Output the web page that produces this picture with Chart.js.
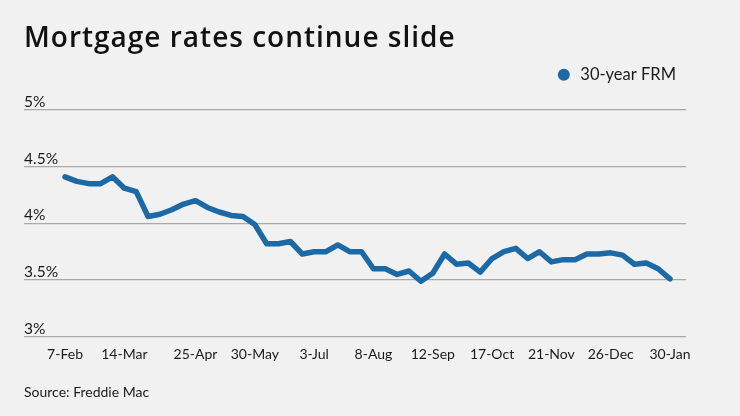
<!DOCTYPE html>
<html>
<head>
<meta charset="utf-8">
<script src="https://cdn.jsdelivr.net/npm/chart.js@4"></script>
<style>
  html, body { margin: 0; padding: 0; background: #f0f1f0; }
  #wrap { position: relative; width: 740px; height: 416px; }
  #title { position: absolute; left: 24px; top: 22px; margin: 0;
    font-family: 'Open Sans', Lato, sans-serif; font-weight: 600; font-size: 28px;
    line-height: 28px; letter-spacing: 1px; color: #111; white-space: nowrap; }
  canvas { position: absolute; left: 0; top: 0; }
</style>
</head>
<body>
<div id="wrap">
  <canvas id="c" width="740" height="416"></canvas>
  <h1 id="title">Mortgage rates continue slide</h1>
</div>
<script>
// Weekly dates (Freddie Mac PMMS), 7-Feb to 30-Jan
const weeks = ["7-Feb","14-Feb","21-Feb","28-Feb","7-Mar","14-Mar","21-Mar","28-Mar","4-Apr","11-Apr","18-Apr","25-Apr",
  "2-May","9-May","16-May","23-May","30-May","6-Jun","13-Jun","20-Jun","27-Jun","3-Jul","11-Jul","18-Jul","25-Jul",
  "1-Aug","8-Aug","15-Aug","22-Aug","29-Aug","5-Sep","12-Sep","19-Sep","26-Sep","3-Oct","10-Oct","17-Oct","24-Oct",
  "31-Oct","7-Nov","14-Nov","21-Nov","27-Nov","5-Dec","12-Dec","19-Dec","26-Dec","2-Jan","9-Jan","16-Jan","23-Jan","30-Jan"];
const frm30 = [4.41,4.37,4.35,4.35,4.41,4.31,4.28,4.06,4.08,4.12,4.17,4.20,
  4.14,4.10,4.07,4.06,3.99,3.82,3.82,3.84,3.73,3.75,3.75,3.81,3.75,
  3.75,3.60,3.60,3.55,3.58,3.49,3.56,3.73,3.64,3.65,3.57,3.69,3.75,
  3.78,3.69,3.75,3.66,3.68,3.68,3.73,3.73,3.74,3.72,3.64,3.65,3.60,3.51];
const tickLabels = ["7-Feb","14-Mar","25-Apr","30-May","3-Jul","8-Aug","12-Sep","17-Oct","21-Nov","26-Dec","30-Jan"];
const yTicks = [3, 3.5, 4, 4.5, 5];

const FONT = "Lato, 'Noto Sans', sans-serif";
const TEXT = '#1a1a1a';
const tickIdx = tickLabels.map(l => weeks.indexOf(l));

const legendGap = {
  id: 'legendGap',
  beforeInit(chart) {
    const lg = chart.legend;
    const fit = lg.fit;
    lg.fit = function () { fit.call(lg); lg.height += 17; };
  }
};

new Chart(document.getElementById('c'), {
  type: 'line',
  plugins: [legendGap],
  data: {
    datasets: [{
      label: '30-year FRM',
      data: frm30.map((v, i) => ({ x: i, y: v })),
      borderColor: '#1c69a6',
      backgroundColor: '#1c69a6',
      borderWidth: 5.5,
      pointRadius: 0,
      pointHoverRadius: 0,
      pointBackgroundColor: '#1c69a6',
      pointBorderColor: '#1c69a6',
      pointBorderWidth: 0,
      pointStyle: 'circle',
      tension: 0,
      borderJoinStyle: 'round',
      borderCapStyle: 'round'
    }]
  },
  options: {
    responsive: false,
    animation: false,
    devicePixelRatio: 1,
    layout: { padding: { left: 24, right: 54, top: 56.4, bottom: 10 } },
    plugins: {
      tooltip: { enabled: false },
      title: { display: false },
      legend: {
        display: true, align: 'end',
        labels: {
          usePointStyle: true, boxHeight: 8.5, color: TEXT,
          font: { family: FONT, size: 16.5 }, padding: 10
        }
      },
      subtitle: {
        display: true, position: 'bottom', align: 'start', text: 'Source: Freddie Mac',
        color: TEXT, font: { family: FONT, size: 14 }, padding: { top: 20, bottom: 5.6 }
      }
    },
    scales: {
      x: {
        type: 'linear', min: -3.46, max: 52.35,
        afterBuildTicks: s => { s.ticks = tickIdx.map(v => ({ value: v })); },
        ticks: {
          autoSkip: false, maxRotation: 0, color: TEXT, padding: 1,
          font: { family: FONT, size: 14 },
          callback: v => weeks[v]
        },
        grid: { display: false },
        border: { display: false }
      },
      y: {
        min: 3, max: 5,
        afterBuildTicks: s => { s.ticks = yTicks.map(v => ({ value: v })); },
        ticks: {
          mirror: true, padding: 0, labelOffset: -8, color: TEXT,
          font: { family: FONT, size: 15.5 },
          callback: v => v + '%'
        },
        grid: { color: '#a9a9a9', lineWidth: 1.2, drawTicks: false },
        border: { display: false }
      }
    }
  }
});
</script>
</body>
</html>
